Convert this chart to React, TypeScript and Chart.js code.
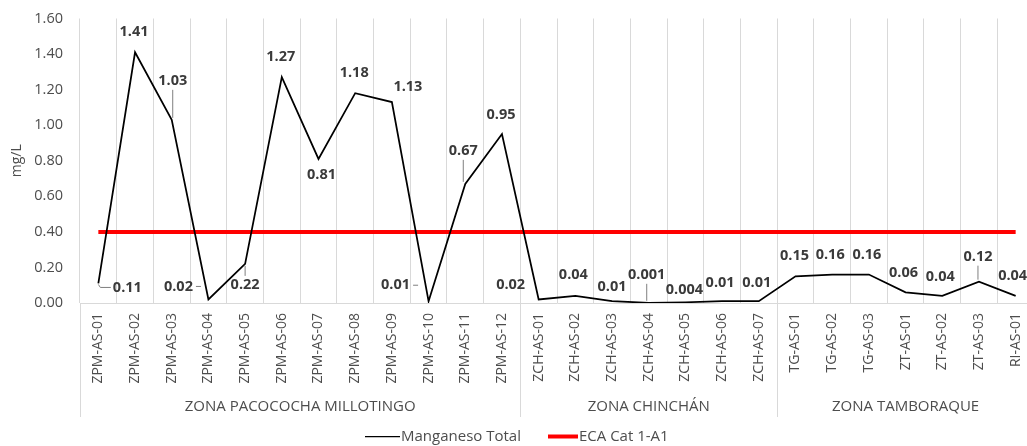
import React, { useEffect, useRef } from "react";
import { Chart, registerables } from "chart.js";

Chart.register(...registerables);

const categories = [
  "ZPM-AS-01", "ZPM-AS-02", "ZPM-AS-03", "ZPM-AS-04", "ZPM-AS-05", "ZPM-AS-06",
  "ZPM-AS-07", "ZPM-AS-08", "ZPM-AS-09", "ZPM-AS-10", "ZPM-AS-11", "ZPM-AS-12",
  "ZCH-AS-01", "ZCH-AS-02", "ZCH-AS-03", "ZCH-AS-04", "ZCH-AS-05", "ZCH-AS-06", "ZCH-AS-07",
  "TG-AS-01", "TG-AS-02", "TG-AS-03", "ZT-AS-01", "ZT-AS-02", "ZT-AS-03", "RI-AS-01",
];

const manganesoTotal = [
  0.11, 1.41, 1.03, 0.02, 0.22, 1.27, 0.81, 1.18, 1.13, 0.01, 0.67, 0.95,
  0.02, 0.04, 0.01, 0.001, 0.004, 0.01, 0.01,
  0.15, 0.16, 0.16, 0.06, 0.04, 0.12, 0.04,
];

const ecaCat1A1 = [
  0.4, 0.4, 0.4, 0.4, 0.4, 0.4, 0.4, 0.4, 0.4, 0.4, 0.4, 0.4,
  0.4, 0.4, 0.4, 0.4, 0.4, 0.4, 0.4,
  0.4, 0.4, 0.4, 0.4, 0.4, 0.4, 0.4,
];

const zoneNames = ["ZONA PACOCOCHA MILLOTINGO", "ZONA CHINCHÁN", "ZONA TAMBORAQUE"];
const zoneSizes = [12, 7, 7];

const yMin = 0;
const yMax = 1.6;
const yStep = 0.2;

const seriesNames = ["Manganeso Total", "ECA Cat 1-A1"];

// data-label placement (offset from the point, in px) and leader style
const labelOffsets: [number, number][] = [
  [29, 4], [-1, -20], [1, -39], [-30, -13], [0, 21], [-1, -20],
  [3, 16], [-1, -20], [16, -15], [-33, -16], [-2, -33], [-1, -19],
  [-28, -15], [-2, -21], [0, -14], [-2, -28], [-1, -12], [-2, -18], [-2, -18],
  [-1, -20], [-2, -20], [-2, -20], [-2, -19], [-2, -19], [-1, -25], [-3, -20],
];
const leaders: Record<number, string> = { 0: "L", 2: "v", 3: "h", 4: "v", 9: "h", 10: "v", 15: "v", 24: "v" };

const FONT = "'Open Sans', 'Liberation Sans', sans-serif";
const GRAY = "#4d4d4d";

const overlayPlugin = {
  id: "overlay",
  afterDatasetsDraw(chart: any) {
    const ctx = chart.ctx;
    const meta = chart.getDatasetMeta(0);
    ctx.save();
    ctx.font = `bold 14.5px ${FONT}`;
    ctx.textAlign = "center";
    ctx.textBaseline = "middle";
    meta.data.forEach((el: any, i: number) => {
      const [dx, dy] = labelOffsets[i];
      const lx = el.x + dx;
      const ly = el.y + dy;
      const txt = String(manganesoTotal[i]);
      const w = ctx.measureText(txt).width;
      const lead = leaders[i];
      if (lead) {
        ctx.strokeStyle = "#7f7f7f";
        ctx.lineWidth = 1;
        ctx.beginPath();
        if (lead === "L") {
          ctx.moveTo(el.x, el.y + 1);
          ctx.lineTo(el.x + 2, ly);
          ctx.lineTo(lx - w / 2 - 2, ly);
        } else if (lead === "v") {
          const y0 = dy < 0 ? ly + 9 : ly - 9;
          const y1 = dy < 0 ? el.y - 2 : el.y + 2;
          ctx.moveTo(lx, y0);
          ctx.lineTo(lx, y1);
        } else if (lead === "h") {
          ctx.moveTo(lx + w / 2 + 3, ly);
          ctx.lineTo(lx + w / 2 + 8, ly);
        }
        ctx.stroke();
      }
      ctx.fillStyle = "#3a3a3a";
      ctx.fillText(txt, lx, ly);
    });
    ctx.restore();
  },
  afterDraw(chart: any) {
    const ctx = chart.ctx;
    const xs = chart.scales.x;
    const area = chart.chartArea;
    const step = xs.getPixelForValue(1) - xs.getPixelForValue(0);
    ctx.save();
    let start = 0;
    zoneNames.forEach((name, gi) => {
      const x0 = xs.getPixelForValue(start) - step / 2;
      const x1 = xs.getPixelForValue(start + zoneSizes[gi] - 1) + step / 2;
      ctx.strokeStyle = "#d9d9d9";
      ctx.lineWidth = 1;
      ctx.beginPath();
      ctx.moveTo(Math.round(x0) + 0.5, area.bottom);
      ctx.lineTo(Math.round(x0) + 0.5, 417);
      ctx.moveTo(Math.round(x1) + 0.5, area.bottom);
      ctx.lineTo(Math.round(x1) + 0.5, 417);
      ctx.stroke();
      ctx.fillStyle = GRAY;
      ctx.font = `15px ${FONT}`;
      ctx.textAlign = "center";
      ctx.textBaseline = "middle";
      ctx.fillText(name, (x0 + x1) / 2, 407);
      start += zoneSizes[gi];
    });
    // legend
    const ly = 436.5;
    ctx.font = `15px ${FONT}`;
    ctx.textAlign = "left";
    ctx.textBaseline = "middle";
    ctx.strokeStyle = "#000000";
    ctx.lineWidth = 1.25;
    ctx.beginPath();
    ctx.moveTo(365, ly);
    ctx.lineTo(400, ly);
    ctx.stroke();
    ctx.fillStyle = GRAY;
    ctx.fillText(seriesNames[0], 401, ly);
    ctx.strokeStyle = "#ff0000";
    ctx.lineWidth = 4;
    ctx.beginPath();
    ctx.moveTo(548, ly);
    ctx.lineTo(578, ly);
    ctx.stroke();
    ctx.fillText(seriesNames[1], 579, ly);
    ctx.restore();
  },
};

export default function App() {
  const ref = useRef<HTMLCanvasElement>(null);
  useEffect(() => {
    if (!ref.current) return;
    const chart = new Chart(ref.current, {
      type: "line",
      data: {
        labels: categories,
        datasets: [
          {
            label: seriesNames[0],
            data: manganesoTotal,
            borderColor: "#000000",
            borderWidth: 1.75,
            pointRadius: 0,
            tension: 0,
            fill: false,
          },
          {
            label: seriesNames[1],
            data: ecaCat1A1,
            borderColor: "#ff0000",
            borderWidth: 4,
            pointRadius: 0,
            tension: 0,
            fill: false,
          },
        ],
      },
      options: {
        responsive: false,
        animation: false,
        devicePixelRatio: 1,
        layout: { padding: { left: 0, right: 11, top: 18.5, bottom: 0 } },
        plugins: {
          legend: { display: false },
          tooltip: { enabled: false },
        },
        scales: {
          x: {
            type: "category",
            offset: true,
            grid: { display: true, color: "#d9d9d9", lineWidth: 1, drawTicks: false, offset: true },
            border: { display: true, color: "#d9d9d9" },
            ticks: {
              autoSkip: false,
              minRotation: 90,
              maxRotation: 90,
              padding: 10,
              color: GRAY,
              font: { family: FONT, size: 14 },
            },
            afterFit: (s: any) => {
              s.height = 143;
            },
          },
          y: {
            min: yMin,
            max: yMax,
            grid: { display: false, drawTicks: false },
            border: { display: false },
            ticks: {
              stepSize: yStep,
              padding: 17,
              color: GRAY,
              font: { family: FONT, size: 14.5 },
              callback: (v: any) => Number(v).toFixed(2),
            },
            title: {
              display: true,
              text: "mg/L",
              color: GRAY,
              font: { family: FONT, size: 14 },
              padding: { top: 9, bottom: 0 },
            },
            afterFit: (s: any) => {
              s.width = 80;
              s.paddingTop = 0;
              s.paddingBottom = 0;
            },
          },
        },
      },
      plugins: [overlayPlugin],
    });
    return () => chart.destroy();
  }, []);
  return (
    <div style={{ position: "fixed", left: 0, top: 0, width: 1027, height: 446, overflow: "hidden", background: "#fff" }}>
      <canvas ref={ref} width={1045} height={446} style={{ display: "block" }} />
    </div>
  );
}
